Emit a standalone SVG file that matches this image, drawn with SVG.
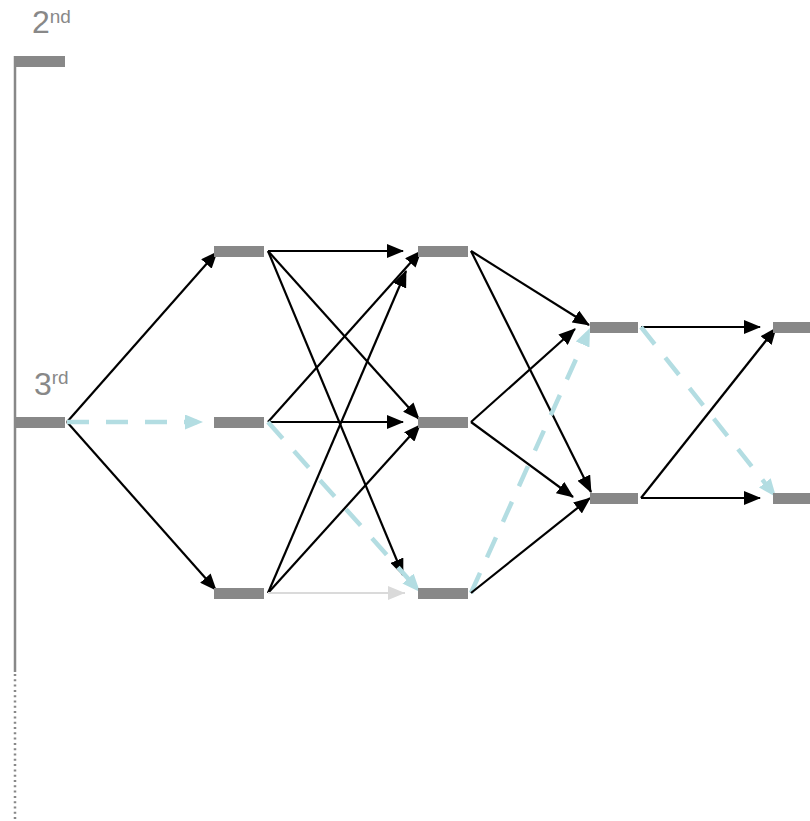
<svg xmlns="http://www.w3.org/2000/svg" width="810" height="821" viewBox="0 0 810 821">
  <style>
    .bar { fill: #888888; }
    .lbl { font-family: "Liberation Sans", Arial, sans-serif; font-size: 32px; fill: #888888; }
    .sup { font-size: 19px; }
    .e { fill: none; stroke: #000000; stroke-width: 2.2; }
    .dash { fill: none; stroke: #b3dde2; stroke-width: 4.5; stroke-dasharray: 22 17; }
    .faint { fill: none; stroke: #dadada; stroke-width: 2.2; }
  </style>
  <defs>
    <marker id="ah" markerUnits="userSpaceOnUse" markerWidth="17" markerHeight="14" refX="16" refY="7" orient="auto">
      <path d="M0,0 L17,7 L0,14 z" fill="#000000"/>
    </marker>
    <marker id="ahBlue" markerUnits="userSpaceOnUse" markerWidth="18" markerHeight="15" refX="12" refY="7.5" orient="auto">
      <path d="M0,0 L18,7.5 L0,15 z" fill="#b3dde2"/>
    </marker>
    <marker id="ahGray" markerUnits="userSpaceOnUse" markerWidth="17" markerHeight="14" refX="17" refY="7" orient="auto">
      <path d="M0,0 L17,7 L0,14 z" fill="#dadada"/>
    </marker>
  </defs>
  <rect width="810" height="821" fill="#ffffff"/>

  <!-- timeline axis -->
  <g id="axis">
    <line x1="15" y1="56" x2="15" y2="672" stroke="#888888" stroke-width="2.5"/>
    <line x1="15" y1="674" x2="15" y2="821" stroke="#888888" stroke-width="2.5" stroke-dasharray="2 3.3"/>
  </g>

  <!-- connectors -->
  <g id="edges">
    <line class="e" x1="67" y1="422" x2="217" y2="252" marker-end="url(#ah)"/>
    <line class="e" x1="67" y1="422" x2="216" y2="590" marker-end="url(#ah)"/>
    <line class="dash" x1="67" y1="422" x2="197" y2="422" marker-end="url(#ahBlue)"/>

    <line class="e" x1="268" y1="251" x2="403" y2="251" marker-end="url(#ah)"/>
    <line class="e" x1="268" y1="251" x2="419" y2="419" marker-end="url(#ah)"/>
    <line class="e" x1="268" y1="251" x2="403" y2="575" marker-end="url(#ah)"/>

    <line class="e" x1="268" y1="422" x2="421" y2="251" marker-end="url(#ah)"/>
    <line class="e" x1="268" y1="422" x2="403" y2="422" marker-end="url(#ah)"/>
    <line class="dash" x1="268" y1="422" x2="416" y2="587.5" marker-end="url(#ahBlue)"/>

    <line class="e" x1="268" y1="593" x2="406" y2="271" marker-end="url(#ah)"/>
    <line class="e" x1="268" y1="593" x2="420" y2="425" marker-end="url(#ah)"/>
    <line class="faint" x1="268" y1="593" x2="405" y2="593" marker-end="url(#ahGray)"/>

    <line class="e" x1="471" y1="251" x2="589" y2="325" marker-end="url(#ah)"/>
    <line class="e" x1="471" y1="251" x2="591" y2="492" marker-end="url(#ah)"/>

    <line class="e" x1="471" y1="422" x2="575" y2="329" marker-end="url(#ah)"/>
    <line class="e" x1="471" y1="422" x2="573" y2="497" marker-end="url(#ah)"/>

    <line class="dash" x1="471" y1="593" x2="587.5" y2="333.5" marker-end="url(#ahBlue)"/>
    <line class="e" x1="471" y1="593" x2="590" y2="498" marker-end="url(#ah)"/>

    <line class="e" x1="641" y1="327" x2="760" y2="327" marker-end="url(#ah)"/>
    <line class="dash" x1="641" y1="327" x2="772.3" y2="492.3" marker-end="url(#ahBlue)"/>

    <line class="e" x1="641" y1="498" x2="776" y2="328" marker-end="url(#ah)"/>
    <line class="e" x1="641" y1="498" x2="760" y2="498" marker-end="url(#ah)"/>
  </g>

  <!-- nodes -->
  <g id="n2nd">
    <rect class="bar" x="15" y="56" width="50" height="11"/>
    <text class="lbl" x="32" y="33">2<tspan class="sup" dy="-10">nd</tspan></text>
  </g>
  <g id="n3rd">
    <rect class="bar" x="15" y="417" width="50" height="11"/>
    <text class="lbl" x="34" y="395">3<tspan class="sup" dy="-11">rd</tspan></text>
  </g>

  <g id="c1top"><rect class="bar" x="214" y="246" width="50" height="11"/></g>
  <g id="c1mid"><rect class="bar" x="214" y="417" width="50" height="11"/></g>
  <g id="c1bot"><rect class="bar" x="214" y="588" width="50" height="11"/></g>

  <g id="c2top"><rect class="bar" x="418" y="246" width="50" height="11"/></g>
  <g id="c2mid"><rect class="bar" x="418" y="417" width="50" height="11"/></g>
  <g id="c2bot"><rect class="bar" x="418" y="588" width="50" height="11"/></g>

  <g id="c3top"><rect class="bar" x="590" y="322" width="48" height="11"/></g>
  <g id="c3bot"><rect class="bar" x="590" y="493" width="48" height="11"/></g>

  <g id="c4top"><rect class="bar" x="773" y="322" width="50" height="11"/></g>
  <g id="c4bot"><rect class="bar" x="773" y="493" width="50" height="11"/></g>
</svg>
